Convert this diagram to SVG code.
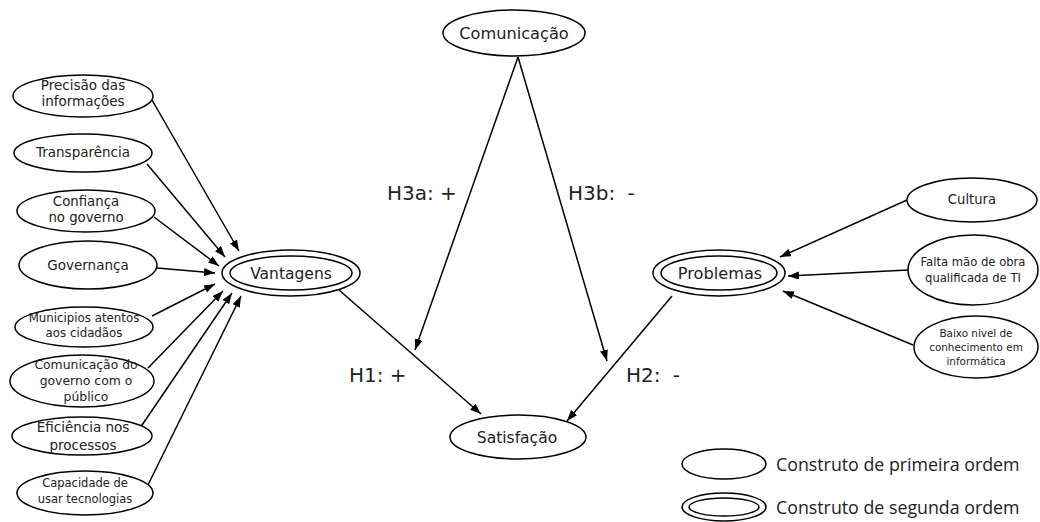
<svg xmlns="http://www.w3.org/2000/svg" width="1040" height="522" viewBox="0 0 1040 522">
<style>
.e{fill:#fff;stroke:#000;stroke-width:1.5}
.t{font-family:"DejaVu Sans","Open Sans",sans-serif;fill:#222;text-anchor:middle}
.c{stroke:#000;stroke-width:1.5;fill:none;marker-end:url(#ah)}
.h{font-family:"DejaVu Sans","Liberation Sans",sans-serif;font-size:20px;fill:#222}
.l{font-family:"Open Sans","Liberation Sans",sans-serif;font-size:17.8px;fill:#222}
</style>
<defs>
<marker id="ah" markerUnits="userSpaceOnUse" markerWidth="12" markerHeight="10" refX="11" refY="4" orient="auto">
<path d="M0,0 L11,4 L0,8 Z" fill="#000"/>
</marker>
</defs>
<rect width="1040" height="522" fill="#fff"/>
<g id="connectors">
<line class="c" x1="152" y1="100" x2="239" y2="251"/>
<line class="c" x1="147" y1="164" x2="225" y2="257"/>
<line class="c" x1="154" y1="217" x2="219" y2="266"/>
<line class="c" x1="157" y1="268" x2="215" y2="273"/>
<line class="c" x1="152" y1="316" x2="215" y2="284"/>
<line class="c" x1="148" y1="368" x2="223" y2="291"/>
<line class="c" x1="140" y1="428" x2="232" y2="293"/>
<line class="c" x1="144" y1="493" x2="241" y2="296"/>
<line class="c" x1="339" y1="290" x2="481" y2="414"/>
<line class="c" x1="518" y1="57" x2="415" y2="350"/>
<line class="c" x1="518" y1="57" x2="607" y2="361"/>
<line class="c" x1="672" y1="296" x2="567" y2="421"/>
<line class="c" x1="907" y1="200" x2="780" y2="257"/>
<line class="c" x1="908" y1="270" x2="788" y2="276"/>
<line class="c" x1="913" y1="345" x2="783" y2="291"/>
</g>
<g id="precisao"><ellipse class="e" cx="83" cy="96" rx="70" ry="21"/><text class="t" font-size="13.5" x="83" y="90">Precisão das</text><text class="t" font-size="13.5" x="83" y="106">informações</text></g>
<g id="transparencia"><ellipse class="e" cx="83" cy="153" rx="69" ry="19"/><text class="t" font-size="13.5" x="83" y="157">Transparência</text></g>
<g id="confianca"><ellipse class="e" cx="86" cy="211" rx="69" ry="21"/><text class="t" font-size="13.3" x="86" y="206">Confiança</text><text class="t" font-size="13.3" x="86" y="222">no governo</text></g>
<g id="governanca"><ellipse class="e" cx="88" cy="265" rx="69" ry="24"/><text class="t" font-size="13.5" x="88" y="270">Governança</text></g>
<g id="municipios"><ellipse class="e" cx="84" cy="327" rx="69" ry="20"/><text class="t" font-size="11.8" x="84" y="322">Municipios atentos</text><text class="t" font-size="11.8" x="84" y="337">aos cidadãos</text></g>
<g id="comunicacao-governo"><ellipse class="e" cx="82" cy="381" rx="72" ry="26"/><text class="t" font-size="12.4" x="86" y="369">Comunicação do</text><text class="t" font-size="12.4" x="86" y="385">governo com o</text><text class="t" font-size="12.4" x="86" y="401">público</text></g>
<g id="eficiencia"><ellipse class="e" cx="82" cy="436" rx="70" ry="19"/><text class="t" font-size="13.5" x="83" y="432">Eficiência nos</text><text class="t" font-size="13.5" x="83" y="450">processos</text></g>
<g id="capacidade"><ellipse class="e" cx="85" cy="493" rx="68" ry="22"/><text class="t" font-size="11.5" x="85" y="487">Capacidade de</text><text class="t" font-size="11.5" x="85" y="503">usar tecnologias</text></g>
<g id="vantagens"><ellipse class="e" cx="291" cy="273" rx="69" ry="23"/><ellipse class="e" cx="291" cy="273" rx="61" ry="17"/><text class="t" font-size="15.5" x="291" y="279">Vantagens</text></g>
<g id="comunicacao"><ellipse class="e" cx="514" cy="33" rx="71" ry="23"/><text class="t" font-size="16.2" x="514" y="39">Comunicação</text></g>
<g id="satisfacao"><ellipse class="e" cx="518" cy="437" rx="68" ry="22"/><text class="t" font-size="15.5" x="517" y="443">Satisfação</text></g>
<g id="problemas"><ellipse class="e" cx="719" cy="273" rx="66" ry="23"/><ellipse class="e" cx="719" cy="273" rx="58" ry="17"/><text class="t" font-size="16.2" x="720" y="279">Problemas</text></g>
<g id="cultura"><ellipse class="e" cx="972" cy="200" rx="65" ry="22"/><text class="t" font-size="13.2" x="972" y="204">Cultura</text></g>
<g id="falta"><ellipse class="e" cx="973" cy="270" rx="65" ry="35"/><text class="t" font-size="11.6" x="973" y="266">Falta mão de obra</text><text class="t" font-size="11.6" x="973" y="282">qualificada de TI</text></g>
<g id="baixo"><ellipse class="e" cx="976" cy="347" rx="62" ry="31"/><text class="t" font-size="10.4" x="976" y="337">Baixo nivel de</text><text class="t" font-size="10.4" x="976" y="351">conhecimento em</text><text class="t" font-size="10.4" x="976" y="365">informática</text></g>
<g id="labels">
<text class="h" x="387" y="200">H3a: +</text>
<text class="h" x="568" y="200" word-spacing="6">H3b: -</text>
<text class="h" x="349" y="382">H1: +</text>
<text class="h" x="626" y="382" word-spacing="6">H2: -</text>
</g>
<g id="legend">
<ellipse class="e" cx="724" cy="464" rx="42" ry="15"/>
<text class="l" x="776" y="471">Construto de primeira ordem</text>
<ellipse class="e" cx="724" cy="507" rx="42" ry="14"/>
<ellipse class="e" cx="724" cy="507" rx="35" ry="9"/>
<text class="l" x="776" y="514">Construto de segunda ordem</text>
</g>
</svg>
